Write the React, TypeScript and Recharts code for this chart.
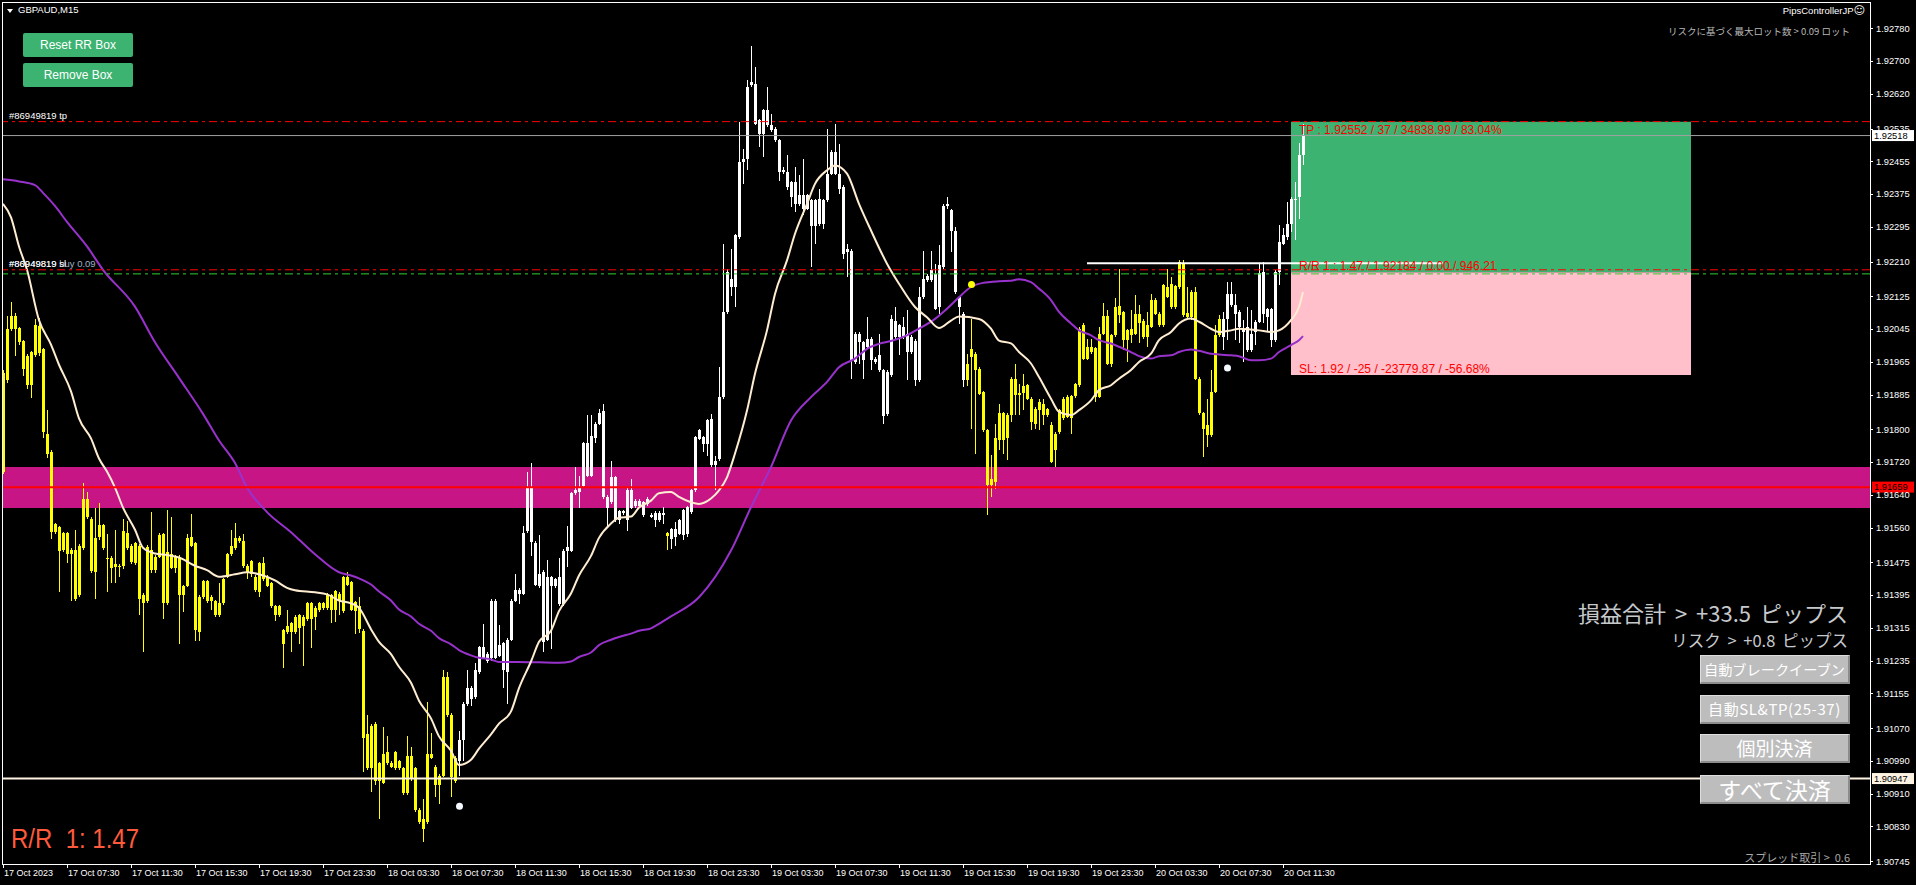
import React from 'react';
import {
  ComposedChart, XAxis, YAxis, Bar, Line, Scatter, ReferenceLine, ReferenceArea,
} from 'recharts';

// GBPAUD M15, bar 0 = 17 Oct 2023 03:30
const OPEN = [
  1.91697, 1.91920, 1.92046, 1.92078, 1.92048, 1.92015, 1.91980, 1.91909, 1.91982, 1.92053,
  1.91997, 1.91788, 1.91744, 1.91549, 1.91562, 1.91506, 1.91546, 1.91495, 1.91506, 1.91396,
  1.91511, 1.91629, 1.91582, 1.91451, 1.91536, 1.91566, 1.91486, 1.91486, 1.91464, 1.91467,
  1.91467, 1.91548, 1.91516, 1.91473, 1.91516, 1.91396, 1.91380, 1.91506, 1.91456, 1.91489,
  1.91544, 1.91375, 1.91495, 1.91462, 1.91489, 1.91396, 1.91418, 1.91538, 1.91522, 1.91306,
  1.91391, 1.91429, 1.91380, 1.91380, 1.91347, 1.91375, 1.91440, 1.91495, 1.91535, 1.91527,
  1.91527, 1.91467, 1.91446, 1.91440, 1.91402, 1.91473, 1.91440, 1.91424, 1.91369, 1.91347,
  1.91309, 1.91304, 1.91326, 1.91304, 1.91347, 1.91320, 1.91336, 1.91375, 1.91342, 1.91358,
  1.91375, 1.91364, 1.91395, 1.91360, 1.91399, 1.91356, 1.91439, 1.91426, 1.91356, 1.91369,
  1.91308, 1.90972, 1.91076, 1.90941, 1.90985, 1.90937, 1.91011, 1.90985, 1.90972, 1.90989,
  1.90972, 1.90911, 1.91002, 1.90972, 1.90871, 1.90849, 1.90841, 1.91007, 1.90976, 1.90932,
  1.90954, 1.91194, 1.91103, 1.90941, 1.90989, 1.91041, 1.91129, 1.91168, 1.91146, 1.91207,
  1.91268, 1.91251, 1.91242, 1.91382, 1.91247, 1.91277, 1.91207, 1.91286, 1.91382, 1.91408,
  1.91399, 1.91552, 1.91657, 1.91523, 1.91417, 1.91452, 1.91286, 1.91439, 1.91417, 1.91439,
  1.91373, 1.91504, 1.91504, 1.91644, 1.91648, 1.91661, 1.91766, 1.91687, 1.91779, 1.91814,
  1.91844, 1.91635, 1.91622, 1.91683, 1.91578, 1.91600, 1.91578, 1.91652, 1.91613, 1.91626,
  1.91622, 1.91618, 1.91591, 1.91596, 1.91578, 1.91596, 1.91548, 1.91557, 1.91537, 1.91545,
  1.91541, 1.91545, 1.91598, 1.91651, 1.91777, 1.91781, 1.91765, 1.91826, 1.91712, 1.91728,
  1.91879, 1.92087, 1.92168, 1.92148, 1.92270, 1.92453, 1.92461, 1.92641, 1.92645, 1.92555,
  1.92522, 1.92580, 1.92543, 1.92535, 1.92506, 1.92429, 1.92429, 1.92404, 1.92351, 1.92372,
  1.92339, 1.92372, 1.92360, 1.92298, 1.92364, 1.92303, 1.92360, 1.92425, 1.92478, 1.92425,
  1.92392, 1.92233, 1.92237, 1.91964, 1.92034, 1.92013, 1.92001, 1.92022, 1.91973, 1.91981,
  1.91944, 1.91838, 1.91932, 1.92066, 1.92026, 1.92050, 1.92034, 1.91989, 1.92017, 1.91920,
  1.92123, 1.92164, 1.92189, 1.92180, 1.92099, 1.92197, 1.92347, 1.92335, 1.92286, 1.92123,
  1.92083, 1.91920, 1.91977, 1.91985, 1.91948, 1.91891, 1.91798, 1.91663, 1.91672, 1.91774,
  1.91839, 1.91778, 1.91835, 1.91924, 1.91884, 1.91888, 1.91908, 1.91875, 1.91814, 1.91847,
  1.91863, 1.91835, 1.91810, 1.91749, 1.91794, 1.91827, 1.91880, 1.91827, 1.91881, 1.91908,
  1.92056, 1.91973, 1.92002, 1.91998, 1.91880, 1.92034, 1.92077, 1.91961, 1.92030, 1.92101,
  1.92086, 1.92018, 1.92030, 1.92034, 1.92083, 1.92065, 1.92026, 1.92051, 1.92116, 1.92083,
  1.92055, 1.92148, 1.92099, 1.92150, 1.92148, 1.92205, 1.92075, 1.92136, 1.92136, 1.91924,
  1.91839, 1.91810, 1.91786, 1.91892, 1.92030, 1.92071, 1.92071, 1.92132, 1.92103, 1.92087,
  1.92042, 1.92051, 1.91994, 1.92038, 1.92063, 1.92185, 1.92093, 1.92093, 1.92018, 1.92185,
  1.92254, 1.92270, 1.92303, 1.92360, 1.92368, 1.92470,
];
const HIGH = [
  1.91945, 1.92078, 1.92111, 1.92085, 1.92050, 1.92018, 1.91985, 1.91992, 1.92070, 1.92072,
  1.92000, 1.91847, 1.91750, 1.91572, 1.91565, 1.91550, 1.91550, 1.91510, 1.91555, 1.91520,
  1.91669, 1.91647, 1.91585, 1.91609, 1.91620, 1.91570, 1.91544, 1.91490, 1.91555, 1.91470,
  1.91582, 1.91576, 1.91520, 1.91525, 1.91520, 1.91400, 1.91518, 1.91598, 1.91492, 1.91546,
  1.91548, 1.91604, 1.91587, 1.91492, 1.91492, 1.91420, 1.91544, 1.91593, 1.91526, 1.91395,
  1.91432, 1.91432, 1.91395, 1.91384, 1.91424, 1.91438, 1.91498, 1.91555, 1.91571, 1.91540,
  1.91544, 1.91470, 1.91482, 1.91444, 1.91476, 1.91489, 1.91444, 1.91428, 1.91372, 1.91372,
  1.91312, 1.91358, 1.91330, 1.91346, 1.91350, 1.91346, 1.91378, 1.91378, 1.91368, 1.91378,
  1.91378, 1.91400, 1.91398, 1.91408, 1.91402, 1.91442, 1.91452, 1.91430, 1.91382, 1.91391,
  1.91312, 1.91103, 1.91080, 1.91085, 1.90988, 1.91072, 1.91050, 1.90990, 1.91015, 1.90993,
  1.90976, 1.91050, 1.91024, 1.90976, 1.90875, 1.90897, 1.91133, 1.91059, 1.90980, 1.90958,
  1.91212, 1.91207, 1.91107, 1.91002, 1.91063, 1.91133, 1.91212, 1.91172, 1.91229, 1.91272,
  1.91325, 1.91255, 1.91386, 1.91386, 1.91321, 1.91281, 1.91290, 1.91386, 1.91447, 1.91412,
  1.91565, 1.91696, 1.91718, 1.91527, 1.91543, 1.91456, 1.91482, 1.91443, 1.91438, 1.91487,
  1.91508, 1.91565, 1.91648, 1.91709, 1.91687, 1.91770, 1.91836, 1.91836, 1.91818, 1.91849,
  1.91862, 1.91639, 1.91722, 1.91687, 1.91604, 1.91604, 1.91656, 1.91678, 1.91630, 1.91630,
  1.91626, 1.91635, 1.91596, 1.91600, 1.91600, 1.91610, 1.91550, 1.91560, 1.91573, 1.91582,
  1.91606, 1.91614, 1.91655, 1.91785, 1.91802, 1.91785, 1.91826, 1.91838, 1.91736, 1.91952,
  1.92254, 1.92193, 1.92241, 1.92278, 1.92551, 1.92486, 1.92653, 1.92738, 1.92685, 1.92559,
  1.92584, 1.92637, 1.92571, 1.92539, 1.92510, 1.92441, 1.92470, 1.92408, 1.92441, 1.92421,
  1.92461, 1.92376, 1.92364, 1.92364, 1.92388, 1.92364, 1.92535, 1.92482, 1.92547, 1.92498,
  1.92396, 1.92254, 1.92241, 1.92038, 1.92038, 1.92017, 1.92074, 1.92026, 1.91977, 1.92034,
  1.91948, 1.91944, 1.92079, 1.92099, 1.92058, 1.92074, 1.92091, 1.92030, 1.92021, 1.92148,
  1.92237, 1.92180, 1.92237, 1.92205, 1.92250, 1.92351, 1.92368, 1.92339, 1.92294, 1.92127,
  1.92087, 1.91985, 1.92070, 1.91989, 1.91952, 1.91895, 1.91802, 1.91737, 1.91814, 1.91863,
  1.91843, 1.91839, 1.91928, 1.91961, 1.91912, 1.91936, 1.91912, 1.91879, 1.91855, 1.91875,
  1.91875, 1.91853, 1.91818, 1.91794, 1.91851, 1.91880, 1.91884, 1.91885, 1.91914, 1.92050,
  1.92059, 1.92022, 1.92022, 1.92002, 1.92051, 1.92108, 1.92091, 1.92034, 1.92120, 1.92191,
  1.92090, 1.92046, 1.92091, 1.92128, 1.92103, 1.92069, 1.92087, 1.92132, 1.92120, 1.92087,
  1.92156, 1.92193, 1.92173, 1.92154, 1.92213, 1.92213, 1.92148, 1.92140, 1.92148, 1.91928,
  1.91843, 1.91875, 1.91945, 1.92055, 1.92079, 1.92087, 1.92160, 1.92160, 1.92132, 1.92091,
  1.92067, 1.92099, 1.92091, 1.92067, 1.92205, 1.92209, 1.92097, 1.92097, 1.92189, 1.92299,
  1.92291, 1.92356, 1.92368, 1.92405, 1.92499, 1.92547,
];
const LOW = [
  1.91690, 1.91914, 1.92040, 1.91980, 1.92007, 1.91931, 1.91898, 1.91877, 1.91978, 1.91980,
  1.91778, 1.91729, 1.91533, 1.91545, 1.91402, 1.91500, 1.91473, 1.91380, 1.91380, 1.91390,
  1.91505, 1.91580, 1.91450, 1.91386, 1.91530, 1.91505, 1.91402, 1.91424, 1.91424, 1.91440,
  1.91460, 1.91505, 1.91470, 1.91468, 1.91347, 1.91255, 1.91375, 1.91450, 1.91450, 1.91485,
  1.91336, 1.91370, 1.91458, 1.91450, 1.91276, 1.91353, 1.91414, 1.91512, 1.91282, 1.91282,
  1.91386, 1.91375, 1.91358, 1.91342, 1.91342, 1.91370, 1.91436, 1.91490, 1.91505, 1.91522,
  1.91462, 1.91435, 1.91440, 1.91402, 1.91391, 1.91430, 1.91414, 1.91364, 1.91331, 1.91342,
  1.91216, 1.91300, 1.91255, 1.91300, 1.91276, 1.91222, 1.91332, 1.91266, 1.91309, 1.91354,
  1.91360, 1.91360, 1.91326, 1.91330, 1.91347, 1.91352, 1.91418, 1.91356, 1.91299, 1.91303,
  1.90963, 1.90968, 1.90915, 1.90932, 1.90849, 1.90933, 1.90980, 1.90972, 1.90968, 1.90968,
  1.90907, 1.90907, 1.90940, 1.90866, 1.90836, 1.90793, 1.90836, 1.90994, 1.90902, 1.90884,
  1.90950, 1.91098, 1.90902, 1.90937, 1.90954, 1.90989, 1.91124, 1.91124, 1.91142, 1.91203,
  1.91238, 1.91229, 1.91233, 1.91238, 1.91243, 1.91168, 1.91129, 1.91282, 1.91378, 1.91373,
  1.91395, 1.91548, 1.91491, 1.91417, 1.91413, 1.91255, 1.91282, 1.91264, 1.91413, 1.91369,
  1.91369, 1.91465, 1.91500, 1.91640, 1.91609, 1.91657, 1.91683, 1.91683, 1.91766, 1.91810,
  1.91631, 1.91565, 1.91618, 1.91574, 1.91570, 1.91592, 1.91552, 1.91605, 1.91609, 1.91609,
  1.91587, 1.91614, 1.91583, 1.91561, 1.91574, 1.91569, 1.91505, 1.91508, 1.91516, 1.91541,
  1.91529, 1.91537, 1.91594, 1.91647, 1.91773, 1.91745, 1.91736, 1.91708, 1.91651, 1.91724,
  1.91875, 1.92083, 1.92127, 1.92099, 1.92266, 1.92400, 1.92433, 1.92637, 1.92543, 1.92490,
  1.92465, 1.92539, 1.92527, 1.92502, 1.92408, 1.92425, 1.92384, 1.92343, 1.92331, 1.92347,
  1.92323, 1.92335, 1.92197, 1.92254, 1.92298, 1.92290, 1.92356, 1.92421, 1.92421, 1.92376,
  1.92217, 1.92172, 1.91924, 1.91960, 1.91960, 1.91924, 1.91997, 1.91944, 1.91960, 1.91940,
  1.91814, 1.91834, 1.91928, 1.92022, 1.91981, 1.92022, 1.91920, 1.91985, 1.91907, 1.91916,
  1.92119, 1.92160, 1.92160, 1.92091, 1.92083, 1.92193, 1.92339, 1.92233, 1.92132, 1.92058,
  1.91903, 1.91905, 1.91802, 1.91741, 1.91883, 1.91794, 1.91590, 1.91635, 1.91655, 1.91749,
  1.91741, 1.91725, 1.91818, 1.91835, 1.91835, 1.91847, 1.91871, 1.91798, 1.91802, 1.91798,
  1.91810, 1.91831, 1.91717, 1.91708, 1.91790, 1.91823, 1.91827, 1.91790, 1.91877, 1.91904,
  1.91969, 1.91969, 1.91985, 1.91867, 1.91876, 1.92030, 1.91957, 1.91953, 1.92026, 1.92059,
  1.91994, 1.91965, 1.92010, 1.92030, 1.92010, 1.92022, 1.92002, 1.92047, 1.92079, 1.92051,
  1.92051, 1.92120, 1.92095, 1.92095, 1.92144, 1.92075, 1.92071, 1.92067, 1.91920, 1.91835,
  1.91733, 1.91757, 1.91782, 1.91888, 1.92026, 1.91994, 1.92018, 1.92099, 1.92018, 1.92010,
  1.91965, 1.91990, 1.91990, 1.92006, 1.92059, 1.92059, 1.92038, 1.92002, 1.92014, 1.92152,
  1.92250, 1.92262, 1.92283, 1.92262, 1.92315, 1.92446,
];
const CLOSE = [
  1.91937, 1.92046, 1.92078, 1.92046, 1.92013, 1.91947, 1.91909, 1.91989, 1.92054, 1.91986,
  1.91793, 1.91740, 1.91549, 1.91568, 1.91502, 1.91546, 1.91495, 1.91506, 1.91386, 1.91516,
  1.91629, 1.91585, 1.91454, 1.91535, 1.91566, 1.91511, 1.91484, 1.91462, 1.91471, 1.91465,
  1.91551, 1.91511, 1.91476, 1.91522, 1.91386, 1.91375, 1.91513, 1.91456, 1.91489, 1.91542,
  1.91375, 1.91500, 1.91462, 1.91489, 1.91396, 1.91418, 1.91535, 1.91516, 1.91309, 1.91391,
  1.91429, 1.91380, 1.91391, 1.91347, 1.91375, 1.91435, 1.91495, 1.91516, 1.91511, 1.91535,
  1.91467, 1.91451, 1.91478, 1.91407, 1.91473, 1.91435, 1.91418, 1.91369, 1.91347, 1.91369,
  1.91276, 1.91320, 1.91304, 1.91342, 1.91315, 1.91342, 1.91375, 1.91336, 1.91364, 1.91375,
  1.91364, 1.91396, 1.91360, 1.91404, 1.91382, 1.91439, 1.91421, 1.91360, 1.91379, 1.91312,
  1.91046, 1.91055, 1.90972, 1.91081, 1.90941, 1.91007, 1.90985, 1.90976, 1.91011, 1.90972,
  1.90911, 1.91002, 1.90945, 1.90871, 1.90841, 1.90823, 1.91007, 1.90998, 1.90932, 1.90954,
  1.91194, 1.91103, 1.90950, 1.90998, 1.91041, 1.91129, 1.91168, 1.91142, 1.91212, 1.91268,
  1.91242, 1.91233, 1.91382, 1.91242, 1.91273, 1.91212, 1.91286, 1.91382, 1.91408, 1.91399,
  1.91548, 1.91657, 1.91526, 1.91421, 1.91447, 1.91281, 1.91439, 1.91417, 1.91434, 1.91373,
  1.91504, 1.91513, 1.91644, 1.91652, 1.91657, 1.91766, 1.91687, 1.91783, 1.91814, 1.91840,
  1.91635, 1.91609, 1.91683, 1.91578, 1.91600, 1.91596, 1.91652, 1.91609, 1.91626, 1.91613,
  1.91591, 1.91631, 1.91587, 1.91578, 1.91596, 1.91590, 1.91540, 1.91533, 1.91557, 1.91578,
  1.91602, 1.91610, 1.91651, 1.91781, 1.91798, 1.91765, 1.91822, 1.91712, 1.91724, 1.91879,
  1.92087, 1.92184, 1.92148, 1.92274, 1.92453, 1.92461, 1.92637, 1.92649, 1.92547, 1.92522,
  1.92580, 1.92543, 1.92531, 1.92506, 1.92429, 1.92433, 1.92392, 1.92368, 1.92404, 1.92351,
  1.92372, 1.92339, 1.92298, 1.92360, 1.92303, 1.92360, 1.92425, 1.92478, 1.92425, 1.92388,
  1.92229, 1.92241, 1.91969, 1.92034, 1.92013, 1.91969, 1.92022, 1.91969, 1.91964, 1.91944,
  1.91834, 1.91940, 1.92070, 1.92026, 1.92054, 1.92026, 1.91989, 1.92026, 1.91920, 1.92123,
  1.92168, 1.92176, 1.92164, 1.92095, 1.92201, 1.92347, 1.92351, 1.92286, 1.92136, 1.92099,
  1.91920, 1.91960, 1.91997, 1.91944, 1.91887, 1.91798, 1.91663, 1.91679, 1.91778, 1.91839,
  1.91774, 1.91835, 1.91924, 1.91884, 1.91888, 1.91906, 1.91875, 1.91818, 1.91851, 1.91867,
  1.91835, 1.91849, 1.91721, 1.91790, 1.91847, 1.91875, 1.91831, 1.91881, 1.91910, 1.92046,
  1.91973, 1.92002, 1.91989, 1.91880, 1.92034, 1.92077, 1.91961, 1.92030, 1.92099, 1.92079,
  1.92018, 1.92042, 1.92046, 1.92083, 1.92059, 1.92026, 1.92055, 1.92116, 1.92083, 1.92055,
  1.92152, 1.92124, 1.92156, 1.92099, 1.92209, 1.92079, 1.92085, 1.92075, 1.91924, 1.91839,
  1.91802, 1.91786, 1.91892, 1.92030, 1.92071, 1.92026, 1.92132, 1.92103, 1.92083, 1.92051,
  1.92038, 1.91994, 1.92034, 1.92063, 1.92181, 1.92083, 1.92075, 1.92018, 1.92185, 1.92258,
  1.92275, 1.92303, 1.92364, 1.92364, 1.92470, 1.92519,
];

// trend colouring: bars in these spans are painted yellow, the rest white
const YELLOW_SPANS = [[0, 113], [166, 166], [241, 304]];

// [bar, price] read off the two moving averages
const FAST_MA = [
  [0, 1.92351], [2, 1.92318], [4, 1.92247], [6, 1.92190], [9, 1.92067], [12, 1.92007], [14, 1.91958],
  [17, 1.91893], [19, 1.91827], [22, 1.91778], [24, 1.91729], [26, 1.91697], [28, 1.91658], [30, 1.91609],
  [33, 1.91555], [35, 1.91511], [38, 1.91497], [41, 1.91493], [44, 1.91487], [48, 1.91467], [51, 1.91456],
  [54, 1.91440], [58, 1.91446], [61, 1.91451], [64, 1.91446], [68, 1.91431], [71, 1.91413], [73, 1.91407],
  [78, 1.91402], [81, 1.91397], [84, 1.91382], [87, 1.91375], [89, 1.91364], [92, 1.91312], [94, 1.91281],
  [97, 1.91251], [99, 1.91220], [102, 1.91181], [104, 1.91137], [107, 1.91094], [109, 1.91050], [112, 1.91015],
  [114, 1.90980], [117, 1.90993], [119, 1.91020], [122, 1.91055], [124, 1.91081], [127, 1.91111], [129, 1.91168],
  [132, 1.91233], [134, 1.91281], [137, 1.91308], [139, 1.91356], [142, 1.91399], [144, 1.91443], [147, 1.91491],
  [149, 1.91535], [152, 1.91570], [154, 1.91584], [157, 1.91587], [159, 1.91609], [162, 1.91626], [164, 1.91644],
  [167, 1.91647], [169, 1.91635], [172, 1.91622], [174, 1.91618], [177, 1.91631], [179, 1.91651], [181, 1.91683],
  [183, 1.91741], [186, 1.91846], [188, 1.91936], [191, 1.92042], [193, 1.92131], [196, 1.92213], [198, 1.92278],
  [201, 1.92351], [203, 1.92400], [206, 1.92433], [208, 1.92445], [211, 1.92425], [214, 1.92351], [217, 1.92286],
  [221, 1.92205], [224, 1.92156], [228, 1.92099], [231, 1.92074], [234, 1.92048], [237, 1.92066], [239, 1.92076],
  [244, 1.92070], [247, 1.92046], [249, 1.92017], [252, 1.92010], [254, 1.91989], [257, 1.91961], [259, 1.91928],
  [262, 1.91875], [264, 1.91843], [267, 1.91835], [269, 1.91847], [272, 1.91871], [274, 1.91896], [277, 1.91908],
  [279, 1.91924], [282, 1.91945], [284, 1.91965], [287, 1.91985], [289, 1.92018], [292, 1.92038], [294, 1.92059],
  [297, 1.92071], [299, 1.92063], [302, 1.92046], [304, 1.92038], [307, 1.92042], [309, 1.92046], [312, 1.92044],
  [314, 1.92042], [317, 1.92038], [319, 1.92042], [322, 1.92067], [324, 1.92099], [325, 1.92136],
];
const SLOW_MA = [
  [0, 1.92411], [4, 1.92406], [8, 1.92397], [10, 1.92378], [13, 1.92346], [16, 1.92307], [21, 1.92247],
  [25, 1.92190], [33, 1.92100], [38, 1.92013], [44, 1.91926], [50, 1.91838], [54, 1.91773], [58, 1.91718],
  [61, 1.91658], [66, 1.91598], [72, 1.91549], [78, 1.91495], [84, 1.91451], [87, 1.91443], [89, 1.91436],
  [92, 1.91421], [94, 1.91404], [97, 1.91382], [99, 1.91360], [102, 1.91343], [104, 1.91325], [107, 1.91308],
  [109, 1.91290], [112, 1.91275], [114, 1.91261], [117, 1.91248], [119, 1.91242], [122, 1.91238], [124, 1.91232],
  [129, 1.91232], [134, 1.91231], [139, 1.91230], [142, 1.91233], [144, 1.91244], [147, 1.91255], [149, 1.91273],
  [152, 1.91286], [154, 1.91293], [157, 1.91301], [159, 1.91308], [162, 1.91314], [164, 1.91325], [167, 1.91343],
  [174, 1.91390], [182, 1.91504], [187, 1.91610], [192, 1.91708], [197, 1.91822], [202, 1.91879], [206, 1.91916],
  [209, 1.91952], [213, 1.91973], [216, 1.91997], [219, 1.92009], [222, 1.92016], [226, 1.92030], [229, 1.92046],
  [233, 1.92070], [236, 1.92095], [239, 1.92123], [242, 1.92148], [245, 1.92158], [249, 1.92162], [252, 1.92163],
  [254, 1.92167], [257, 1.92160], [259, 1.92144], [262, 1.92116], [264, 1.92087], [267, 1.92059], [269, 1.92042],
  [272, 1.92030], [274, 1.92018], [277, 1.92010], [279, 1.92002], [282, 1.91989], [284, 1.91979], [287, 1.91973],
  [289, 1.91979], [292, 1.91981], [294, 1.91989], [297, 1.91995], [299, 1.91992], [302, 1.91985], [304, 1.91983],
  [307, 1.91981], [309, 1.91979], [312, 1.91969], [314, 1.91969], [317, 1.91973], [319, 1.91989], [322, 1.92006],
  [324, 1.92018], [325, 1.92028],
];

const SIGNALS = [
  { i: 114, p: 1.90879, color: '#f4f8ff' },
  { i: 242, p: 1.92154, color: '#ffff00' },
  { i: 306, p: 1.91950, color: '#f4f8ff' },
];

const TIME_TICKS = [0, 16, 32, 48, 64, 80, 96, 112, 128, 144, 160, 176, 192, 208, 224, 240, 256, 272, 288, 304, 320];
const TIME_LABELS = [
  '17 Oct 2023', '17 Oct 07:30', '17 Oct 11:30', '17 Oct 15:30', '17 Oct 19:30', '17 Oct 23:30',
  '18 Oct 03:30', '18 Oct 07:30', '18 Oct 11:30', '18 Oct 15:30', '18 Oct 19:30', '18 Oct 23:30',
  '19 Oct 03:30', '19 Oct 07:30', '19 Oct 11:30', '19 Oct 15:30', '19 Oct 19:30', '19 Oct 23:30',
  '20 Oct 03:30', '20 Oct 07:30', '20 Oct 11:30',
];
const PRICE_TICKS = [
  1.92780, 1.92700, 1.92620, 1.92535, 1.92455, 1.92375, 1.92295, 1.92210, 1.92125, 1.92045,
  1.91965, 1.91885, 1.91800, 1.91720, 1.91640, 1.91560, 1.91475, 1.91395, 1.91315, 1.91235,
  1.91155, 1.91070, 1.90990, 1.90910, 1.90830, 1.90745,
];

// order / box levels
const TP = 1.92552;
const ENTRY = 1.92184;
const SL = 1.91933;
const SL_LINE = 1.92190;
const BUY_LINE = 1.92180;
const BID = 1.92518;
const ZONE_LOW = 1.91608;
const ZONE_HIGH = 1.91708;
const ZONE_MID = 1.91659;
const LOW_LINE = 1.90947;
const HIGH_MARK = 1.92206;
const BOX_FROM = 322;
const BOX_TO = 422;

const Y_TOP = 1.928443;
const Y_BOTTOM = 1.907382;

const rows: any[] = OPEN.map((o, i) => ({
  i, o, h: HIGH[i], l: LOW[i], c: CLOSE[i],
  range: [LOW[i], HIGH[i]],
  color: YELLOW_SPANS.some(([a, b]) => i >= a && i <= b) ? '#ffff00' : '#ffffff',
}));
FAST_MA.forEach(([b, v]) => { rows[b].fast = v; });
SLOW_MA.forEach(([b, v]) => { rows[b].slow = v; });

const SANS = '"Liberation Sans", Arial, sans-serif';
const JP = '"Noto Sans CJK JP", "Noto Sans", sans-serif';

function Candle(props: any) {
  const { x, y, width, height, payload } = props;
  if (!payload || !Number.isFinite(x) || !Number.isFinite(y)) return null;
  const cx = Math.round(x + width / 2);
  const span = payload.h - payload.l;
  const k = span > 0 ? height / span : 0;
  const yo = y + (payload.h - payload.o) * k;
  const yc = y + (payload.h - payload.c) * k;
  return (
    <g fill={payload.color} shapeRendering="crispEdges">
      <rect x={cx} y={y} width={1} height={Math.max(1, height)} />
      <rect x={cx - 1} y={Math.min(yo, yc)} width={3} height={Math.max(1, Math.abs(yo - yc))} />
    </g>
  );
}

function SignalDot({ cx, cy, payload }: any) {
  if (!Number.isFinite(cx)) return null;
  return <circle cx={cx + 0.5} cy={cy} r={3.5} fill={payload.color} />;
}

function TimeTick({ x, y, payload }: any) {
  const k = TIME_TICKS.indexOf(payload.value);
  const px = Math.round(x) + 0.5;
  return (
    <g>
      <line x1={px} x2={px} y1={y - 6} y2={y - 2} stroke="#fff" />
      <text x={px + 0.5} y={y} dy="0.71em" fill="#fff" fontSize={9} fontFamily={SANS}>{TIME_LABELS[k]}</text>
    </g>
  );
}

function PriceTick({ x, y, payload }: any) {
  const py = Math.round(y) + 0.5;
  return (
    <g>
      <line x1={x - 6} x2={x - 3} y1={py} y2={py} stroke="#fff" />
      <text x={x} y={y} dy="0.355em" fill="#fff" fontSize={9.3} fontFamily={SANS}>{payload.value.toFixed(5)}</text>
    </g>
  );
}

function PriceTag({ viewBox, text, bg, fg }: any) {
  if (!viewBox) return null;
  const x = viewBox.x + viewBox.width + 2;
  return (
    <g>
      <rect x={x} y={viewBox.y - 5.5} width={42} height={11} fill={bg} />
      <text x={x + 2} y={viewBox.y} dy="0.355em" fontSize={9.3} fill={fg} fontFamily={SANS}>{text}</text>
    </g>
  );
}

const dashDot = '8 4 3 4';

function Txt({ style, children }: any) {
  return <div style={{ position: 'absolute', whiteSpace: 'pre', fontFamily: SANS, ...style }}>{children}</div>;
}

function GreenButton({ top, label }: { top: number; label: string }) {
  return (
    <div style={{
      position: 'absolute', left: 23, top, width: 110, height: 24, background: '#3cb371', borderRadius: 2,
      color: '#fff', fontFamily: SANS, fontSize: 12, lineHeight: '24px', textAlign: 'center',
    }}>{label}</div>
  );
}

function GrayButton({ top, label, size, spacing = 0 }: { top: number; label: string; size: number; spacing?: number }) {
  return (
    <div style={{
      position: 'absolute', left: 1700, top, width: 150, height: 29, boxSizing: 'border-box', background: '#bdbdbd',
      borderTop: '1px solid #dedede', borderLeft: '1px solid #dedede', borderBottom: '2px solid #8c8c8c', borderRight: '2px solid #8c8c8c',
      color: '#fff', fontFamily: JP, fontSize: size, lineHeight: '26px', textAlign: 'center', whiteSpace: 'nowrap',
      letterSpacing: spacing,
    }}>{label}</div>
  );
}

export default function App() {
  return (
    <div style={{ position: 'absolute', left: 0, top: 0, width: 1916, height: 885, background: '#000', overflow: 'hidden' }}>
      <ComposedChart width={1916} height={885} data={rows} margin={{ top: 2, right: 0, bottom: 0, left: 2 }}>
        <XAxis
          type="number" dataKey="i" domain={[-0.25, 466.75]} allowDataOverflow
          ticks={TIME_TICKS} interval={0} height={21} tickSize={4} tickMargin={2}
          axisLine={false} tickLine={false} tick={<TimeTick />}
        />
        <YAxis
          orientation="right" type="number" domain={[Y_BOTTOM, Y_TOP]} allowDataOverflow
          ticks={PRICE_TICKS} interval={0} width={46} tickSize={4} tickMargin={2}
          axisLine={false} tickLine={false} tick={<PriceTick />}
        />

        <ReferenceArea y1={ZONE_LOW} y2={ZONE_HIGH} fill="#c71585" fillOpacity={1} stroke="none" zIndex={50} />
        <ReferenceArea x1={BOX_FROM} x2={BOX_TO} y1={ENTRY} y2={TP} fill="#3cb371" fillOpacity={1} stroke="none" zIndex={60} />
        <ReferenceArea x1={BOX_FROM} x2={BOX_TO} y1={SL} y2={ENTRY} fill="#ffc0cb" fillOpacity={1} stroke="none" zIndex={60} />

        <Bar dataKey="range" barSize={3} shape={<Candle />} isAnimationActive={false} zIndex={300} />
        <Line dataKey="slow" type="monotone" stroke="#9932cc" strokeWidth={2} dot={false} activeDot={false}
          connectNulls isAnimationActive={false} zIndex={400} />
        <Line dataKey="fast" type="monotone" stroke="#ffedd2" strokeWidth={2} dot={false} activeDot={false}
          connectNulls isAnimationActive={false} zIndex={400} />
        <Scatter data={SIGNALS} dataKey="p" shape={<SignalDot />} isAnimationActive={false} zIndex={600} />

        <ReferenceLine y={TP} stroke="#ff0000" strokeDasharray={dashDot} zIndex={700} />
        <ReferenceLine y={SL_LINE} stroke="#ff0000" strokeDasharray={dashDot} zIndex={700} />
        <ReferenceLine y={BUY_LINE} stroke="#32cd32" strokeDasharray={dashDot} zIndex={700} />
        <ReferenceLine y={BID} stroke="#a0a0a0" zIndex={700}
          label={<PriceTag text={BID.toFixed(5)} bg="#ffffff" fg="#000000" />} />
        <ReferenceLine y={ZONE_MID} stroke="#ff0000" strokeWidth={2} zIndex={700}
          label={<PriceTag text={ZONE_MID.toFixed(5)} bg="#ff0000" fg="#000000" />} />
        <ReferenceLine y={LOW_LINE} stroke="#fff4e4" strokeWidth={2} zIndex={700}
          label={<PriceTag text={LOW_LINE.toFixed(5)} bg="#fff4e4" fg="#000000" />} />
        <ReferenceLine segment={[{ x: 271, y: HIGH_MARK }, { x: 360, y: HIGH_MARK }]} stroke="#ffffff"
          strokeWidth={2} ifOverflow="visible" zIndex={800} />
      </ComposedChart>

      {/* chart frame */}
      <div style={{ position: 'absolute', left: 2, top: 2, width: 1869, height: 863, boxSizing: 'border-box', border: '1px solid #fff' }} />

      {/* header */}
      <div style={{ position: 'absolute', left: 7, top: 9, width: 0, height: 0, borderLeft: '3px solid transparent', borderRight: '3px solid transparent', borderTop: '4px solid #fff' }} />
      <Txt style={{ left: 18, top: 4, fontSize: 9.5, lineHeight: '12px', color: '#fff' }}>GBPAUD,M15</Txt>
      <GreenButton top={33} label="Reset RR Box" />
      <GreenButton top={63} label="Remove Box" />

      <Txt style={{ left: 9, top: 110, fontSize: 9.5, lineHeight: '12px', color: '#fff' }}>#86949819 tp</Txt>
      <Txt style={{ left: 9, top: 258, fontSize: 9.5, lineHeight: '12px', color: '#9fb4c8' }}>#86949819 buy 0.09</Txt>
      <Txt style={{ left: 9, top: 258, fontSize: 9.5, lineHeight: '12px', color: '#ffffff' }}>#86949819 sl</Txt>

      {/* top-right info */}
      <Txt style={{ right: 51, top: 5, fontSize: 9.5, lineHeight: '12px', color: '#fff', fontFamily: '"DejaVu Sans", sans-serif' }}>
        <span style={{ fontFamily: SANS }}>PipsControllerJP</span><span style={{ fontSize: 11 }}>☺</span>
      </Txt>
      <Txt style={{ right: 66, top: 25, fontSize: 9.5, lineHeight: '12px', color: '#b8b8b8', fontFamily: JP }}>
        リスクに基づく最大ロット数 &gt; 0.09 ロット
      </Txt>

      {/* RR box texts */}
      <Txt style={{ left: 1299, top: 123, fontSize: 12, lineHeight: '14px', color: '#ff0000' }}>TP : 1.92552 / 37 / 34838.99 / 83.04%</Txt>
      <Txt style={{ left: 1299, top: 259, fontSize: 12, lineHeight: '14px', color: '#ff0000' }}>R/R 1 : 1.47 / 1.92184 / 0.00 / 946.21</Txt>
      <Txt style={{ left: 1299, top: 362, fontSize: 12, lineHeight: '14px', color: '#ff0000' }}>SL: 1.92 / -25 / -23779.87 / -56.68%</Txt>

      {/* bottom-right panel */}
      <Txt style={{ right: 68, top: 599, fontSize: 22, lineHeight: '26px', color: '#c6c9cc', fontFamily: JP, wordSpacing: 4 }}>損益合計 &gt; +33.5 ピップス</Txt>
      <Txt style={{ right: 68, top: 630, fontSize: 16.5, lineHeight: '20px', color: '#c6c9cc', fontFamily: JP, wordSpacing: 3 }}>リスク &gt; +0.8 ピップス</Txt>
      <GrayButton top={655} label="自動ブレークイーブン" size={14.2} />
      <GrayButton top={695} label="自動SL&TP(25-37)" size={15} spacing={0.6} />
      <GrayButton top={734} label="個別決済" size={19} />
      <GrayButton top={775} label="すべて決済" size={23} />
      <Txt style={{ right: 66, top: 850, fontSize: 11, lineHeight: '14px', color: '#a8a8a8', fontFamily: JP }}>スプレッド取引 &gt;  0.6</Txt>

      <Txt style={{ left: 11, top: 825, fontSize: 24, lineHeight: '24px', color: '#ff5a3c', transform: 'scaleY(1.15)', transformOrigin: 'left top' }}>R/R  1: 1.47</Txt>
    </div>
  );
}
